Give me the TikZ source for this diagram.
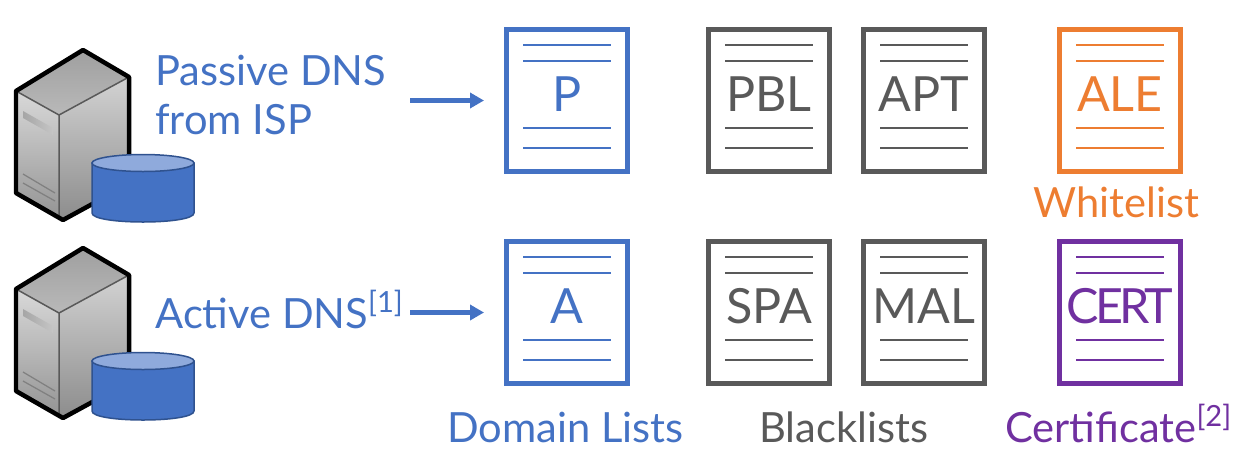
\documentclass[tikz,border=0pt]{standalone}
\usepackage{fontspec}
\setmainfont{Lato}
\newfontfamily\certfont[LetterSpace=-8]{Lato}
\usetikzlibrary{arrows.meta}
\definecolor{domainblue}{HTML}{4472C4}
\definecolor{diskblue}{HTML}{2F528F}
\definecolor{disktop}{HTML}{8FAADC}
\definecolor{listgray}{HTML}{595959}
\definecolor{whiteorange}{HTML}{ED7D31}
\definecolor{certpurple}{HTML}{7030A0}
\tikzset{
    docbox/.style={draw, fill=white, line width=0.1cm, minimum width=2.42cm, minimum height=2.84cm},
    docline/.style={line width=0.034cm},
    doctext/.style={anchor=base, inner sep=0pt, font=\fontsize{27.6}{28}\selectfont},
    capt/.style={anchor=base west, inner sep=0pt, font=\fontsize{23.7}{28}\selectfont},
    feedarrow/.style={draw=domainblue, line width=0.1cm, -{Triangle[length=0.28cm,width=0.3cm]}, shorten >=0.4cm},
    serverpic/.pic={
        \shade[top color=gray!75, bottom color=gray!55] (83,50) -- (129,77) -- (59,115) -- (16,91) -- cycle;
        \shade[top color=gray!30, bottom color=gray!85] (16,91) -- (59,115) -- (63,220) -- (16,193) -- cycle;
        \shade[top color=gray!35, bottom color=gray!90] (59,115) -- (129,77) -- (129,184) -- (63,220) -- (59,218) -- cycle;
        \draw[listgray, line width=0.03cm] (16,91) -- (59,115) -- (129,77) (59,115) -- (59,218);
        \shade[left color=gray!70, right color=gray!45] (23,111) -- (53,128) -- (53,135) -- (23,118) -- cycle;
        \draw[gray, line width=0.025cm] (23,174) -- (55,193) (23,183) -- (55,201);
        \draw[black, line width=0.09cm, line join=round] (83,50) -- (129,77) -- (129,184) -- (63,220) -- (16,193) -- (16,91) -- cycle;
        % disk
        \draw[fill=domainblue, draw=diskblue, line width=0.03cm] (92,163) -- (92,213) .. controls (92,225) and (194,225) .. (194,213) -- (194,163) -- cycle;
        \draw[fill=disktop, draw=diskblue, line width=0.03cm] (143,163) ellipse (51 and 8.5);
    }
}
\begin{document}
\begin{tikzpicture}[x=0.02cm, y=-0.02cm]
    \useasboundingbox (0,0) rectangle (1233,454);

    % servers
    \pic at (0,0) {serverpic};
    \pic at (0,198) {serverpic};

    % document boxes
    \foreach \name/\x/\y/\col/\txt in {
        P/567/100.5/domainblue/P,
        A/567/312.5/domainblue/A,
        PBL/769/100.5/listgray/PBL,
        APT/924/100.5/listgray/APT,
        SPA/769/312.5/listgray/SPA,
        MAL/924/312.5/listgray/MAL,
        ALE/1120/100.5/whiteorange/ALE,
        CERT/1120/312.5/certpurple/{\certfont CERT}
    }{
        \node[docbox, draw=\col] (doc\name) at (\x,\y) {};
        \node[doctext, text=\col] (txt\name) at (\x,\y+10.5) {\txt};
        \foreach \o in {-55.5,-39.5,27.5,47.5}
            \draw[docline, draw=\col, shift={(\x,\y)}] (-44,\o) -- (44,\o);
    }

    % captions
    \node[capt, text=domainblue] (passive) at (155,85) {Passive DNS};
    \node[capt, text=domainblue] (fromisp) at (155,134) {from ISP};
    \node[capt, text=domainblue] (active) at (155,328) {Active DNS\textsuperscript{[1]}};
    \node[capt, text=domainblue] (domains) at (447,442) {Domain Lists};
    \node[capt, text=listgray] (black) at (759,442) {Blacklists};
    \node[capt, text=whiteorange] (white) at (1033,217) {Whitelist};
    \node[capt, text=certpurple] (cert) at (1005,442) {Certificate\textsuperscript{[2]}};

    % arrows
    \coordinate (passivefeed) at (410,100.5);
    \coordinate (activefeed) at (410,312.5);
    \draw[feedarrow] (passivefeed) -- (docP.west);
    \draw[feedarrow] (activefeed) -- (docA.west);
\end{tikzpicture}
\end{document}
